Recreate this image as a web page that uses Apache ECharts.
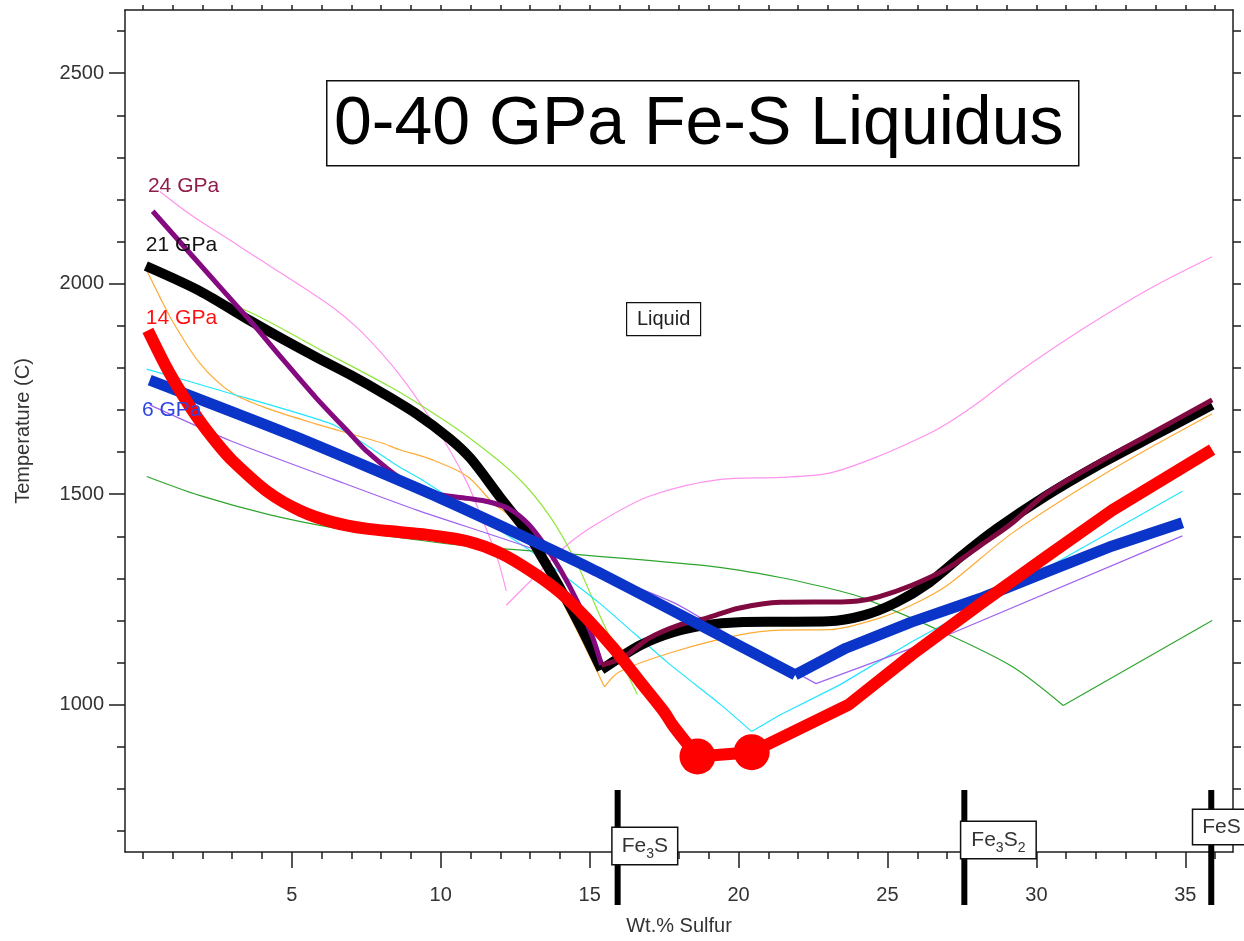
<!DOCTYPE html>
<html>
<head>
<meta charset="utf-8">
<title>0-40 GPa Fe-S Liquidus</title>
<script src="https://cdn.jsdelivr.net/npm/echarts@6/dist/echarts.min.js"></script>
<style>
  html, body { margin: 0; padding: 0; background: #fff; }
  #chart { width: 1244px; height: 941px; }
</style>
</head>
<body>
<div id="chart"></div>
<script>
// Liquidus curves, points are [wt.% S, temperature in °C].
// "Fe" arrays run from pure Fe to the eutectic, "S" arrays from the eutectic toward FeS.

// 6 GPa
const gpa6Fe = [[0.23, 1771], [5.0, 1640], [10.0, 1490], [15.0, 1325], [18.9, 1182], [21.9, 1071]];
const gpa6S = [[21.9, 1071], [23.6, 1134], [25.8, 1196], [28.1, 1252], [30.3, 1314], [32.55, 1377], [34.9, 1432]];

// 14 GPa (with the two measured points near the eutectic)
const gpa14Fe = [[0.17, 1889], [0.8, 1800], [1.34, 1735], [1.9, 1675], [2.5, 1620], [3.0, 1580], [4.2, 1505], [5.3, 1460], [6.4, 1433], [7.5, 1418], [8.6, 1410], [9.7, 1402], [10.9, 1388], [12.0, 1360], [13.1, 1314], [14.0, 1267], [14.9, 1205], [15.8, 1134], [16.7, 1054], [17.5, 983], [17.8, 950], [18.62, 877]];
const gpa14S = [[18.62, 877], [20.44, 887], [23.7, 1000], [25.8, 1118], [28.1, 1238], [30.3, 1350], [32.55, 1462], [35.9, 1606]];
const gpa14Points = [[18.62, 877], [20.44, 887]];

// 21 GPa
const gpa21Fe = [[0.1, 2042], [1.9, 1983], [3.6, 1912], [4.7, 1868], [5.8, 1826], [7.0, 1782], [8.1, 1738], [9.2, 1690], [10.3, 1632], [11.0, 1585], [12.0, 1492], [12.9, 1410], [13.4, 1350], [14.0, 1278], [14.7, 1185], [15.4, 1083]];
const gpa21S = [[15.4, 1083], [16.7, 1141], [17.8, 1172], [18.9, 1189], [20.0, 1196], [21.4, 1197], [23.0, 1198], [24.2, 1212], [25.3, 1243], [26.4, 1290], [27.5, 1354], [28.65, 1417], [30.3, 1495], [32.0, 1566], [33.7, 1630], [35.9, 1712]];

// 24 GPa
const gpa24Fe = [[0.33, 2172], [2.8, 1975], [3.6, 1912], [4.7, 1820], [5.8, 1730], [7.0, 1640], [7.5, 1603], [8.6, 1540], [9.7, 1503], [10.9, 1490], [11.6, 1482], [12.3, 1465], [12.9, 1432], [13.4, 1388], [14.0, 1323], [14.6, 1243], [15.1, 1160], [15.4, 1094]];
const gpa24S = [[15.4, 1094], [16.1, 1111], [17.0, 1158], [18.0, 1189], [18.9, 1205], [20.0, 1229], [21.4, 1243], [23.4, 1244], [24.0, 1246], [24.7, 1256], [25.8, 1283], [27.0, 1323], [28.1, 1377], [29.2, 1432], [30.3, 1500], [32.0, 1572], [33.7, 1638], [35.9, 1724]];

// Other pressures (thin curves)
const pinkFe = [[0.57, 2219], [1.58, 2165], [3.0, 2100], [3.6, 2072], [5.3, 1995], [6.4, 1942], [7.2, 1895], [8.05, 1832], [8.7, 1776], [9.4, 1706], [10.3, 1605], [10.9, 1525], [11.4, 1440], [11.9, 1348], [12.2, 1270]];
const pinkS = [[12.2, 1236], [13.1, 1300], [14.2, 1377], [15.3, 1432], [17.0, 1495], [19.4, 1535], [21.4, 1540], [23.05, 1550], [24.7, 1590], [26.4, 1644], [27.1, 1672], [28.1, 1720], [29.3, 1785], [31.5, 1890], [33.8, 1988], [35.9, 2064]];
const limeFe = [[0.13, 2031], [3.6, 1932], [5.8, 1849], [8.3, 1755], [9.4, 1708], [10.9, 1637], [12.55, 1542], [13.66, 1448], [14.56, 1337], [15.34, 1212], [16.6, 1024]];
const orangeFe = [[0.13, 2031], [0.57, 1968], [1.0, 1910], [1.9, 1812], [3.0, 1740], [4.2, 1703], [5.8, 1667], [8.0, 1622], [8.6, 1606], [9.7, 1582], [10.9, 1542], [11.75, 1479], [12.3, 1448], [13.1, 1370], [14.3, 1215], [15.5, 1042]];
const orangeS = [[15.5, 1042], [16.0, 1078], [17.8, 1125], [20.0, 1165], [21.4, 1177], [23.05, 1178], [24.7, 1205], [25.8, 1236], [27.0, 1283], [29.2, 1408], [32.55, 1559], [35.9, 1691]];
const cyanFe = [[0.13, 1797], [3.0, 1738], [6.4, 1665], [8.6, 1565], [9.3, 1537], [13.1, 1361], [15.3, 1243], [17.6, 1101], [19.4, 1000], [20.44, 936]];
const cyanS = [[20.44, 936], [21.4, 976], [23.4, 1047], [25.8, 1149], [30.3, 1323], [34.9, 1507]];
const violetFe = [[0.23, 1712], [3.0, 1625], [6.4, 1535], [9.2, 1462], [13.1, 1370], [17.8, 1243], [20.0, 1152], [22.6, 1050]];
const violetS = [[22.6, 1050], [27.0, 1165], [34.9, 1401]];
const greenFe = [[0.13, 1542], [1.9, 1497], [4.2, 1452], [6.4, 1420], [8.6, 1397], [10.5, 1380], [14.3, 1358], [18.9, 1330], [21.4, 1302], [23.4, 1270], [24.2, 1253], [27.0, 1168], [29.2, 1090], [30.9, 998]];
const greenS = [[30.9, 998], [35.9, 1200]];

// Curve names and where they sit: [wt.% S, °C] of the label's left edge
const curveLabelNames = ['24 GPa', '21 GPa', '14 GPa', '6 GPa'];
const curveLabelAnchors = [[0.17, 2231], [0.1, 2092], [0.1, 1917], [-0.03, 1700]];

// Iron sulfide compositions (wt.% S)
const phaseNames = ['Fe3S', 'Fe3S2', 'FeS'];
const phaseWt = [15.94, 27.58, 35.87];

// Axis ranges and ticks
const X_MIN = -0.6, X_MAX = 36.6, T_MIN = 650, T_MAX = 2650;
const xMajorTicks = [5, 10, 15, 20, 25, 30, 35];
const xMinorTicks = [0, 1, 2, 3, 4, 5, 6, 7, 8, 9, 10, 11, 12, 13, 14, 15, 16, 17, 18, 19, 20, 21, 22, 23, 24, 25, 26, 27, 28, 29, 30, 31, 32, 33, 34, 35, 36];
const tMajorTicks = [1000, 1500, 2000, 2500];
const tMinorTicks = [700, 800, 900, 1000, 1100, 1200, 1300, 1400, 1500, 1600, 1700, 1800, 1900, 2000, 2100, 2200, 2300, 2400, 2500, 2600];

const FONT = '"Liberation Sans", Arial, Helvetica, sans-serif';
const AXIS_COLOR = '#1e1e1e';
const TEXT_COLOR = '#333';
const labelColors = ['#8f1d4c', '#111111', '#ff1010', '#2f45e0'];

// Label box layout for the composition markers (pixels, relative to the bar and the x axis)
const phaseBoxLayout = [
  { dx: -5, dy: -6, pad: [6, 9, 6, 9] },
  { dx: -3, dy: -12, pad: [6, 10, 6, 10] },
  { dx: -18, dy: -25, pad: [5, 9, 5, 9] }
];
const phaseRich = {
  Fe3S: '{n|Fe}{s|3}{n|S}',
  Fe3S2: '{n|Fe}{s|3}{n|S}{s|2}',
  FeS: '{n|FeS}'
};

function curve(data, color, width, z, smooth) {
  return {
    type: 'line',
    data: data,
    symbol: 'none',
    showSymbol: false,
    smooth: smooth || false,
    lineStyle: { color: color, width: width, cap: 'butt', join: 'round', opacity: 1 },
    z: z,
    silent: true,
    animation: false
  };
}

const series = [
  // thin curves
  curve(pinkFe, '#ff93ee', 1.2, 2, 0.3),
  curve(pinkS, '#ff93ee', 1.2, 2, 0.3),
  curve(limeFe, '#8fe63a', 1.2, 2, 0.3),
  curve(orangeFe, '#ffaa33', 1.2, 2, 0.3),
  curve(orangeS, '#ffaa33', 1.2, 2, 0.3),
  curve(cyanFe, '#20e6ff', 1.2, 2, 0.15),
  curve(cyanS, '#20e6ff', 1.2, 2, false),
  curve(violetFe, '#a062f0', 1.2, 2, 0.2),
  curve(violetS, '#a062f0', 1.2, 2, false),
  curve(greenFe, '#2fa52f', 1.2, 2, 0.3),
  curve(greenS, '#2fa52f', 1.2, 2, false),
  // bold curves
  curve(gpa21Fe, '#000000', 10, 3, 0.3),
  curve(gpa21S, '#000000', 10, 3, 0.3),
  curve(gpa24Fe, '#850a80', 5, 4, 0.3),
  curve(gpa24S, '#800a40', 5, 4, 0.3),
  curve(gpa6Fe, '#0a35c8', 11, 5, 0.2),
  curve(gpa6S, '#0a35c8', 11, 5, false),
  curve(gpa14Fe, '#ff0000', 12, 6, 0.3),
  curve(gpa14S, '#ff0000', 12, 6, false),
  {
    type: 'scatter',
    data: gpa14Points,
    symbol: 'circle',
    symbolSize: 36,
    itemStyle: { color: '#ff0000', opacity: 1 },
    z: 6,
    silent: true,
    animation: false
  },
  // composition markers with boxed labels
  {
    type: 'custom',
    data: phaseWt.map(function (w) { return [w, T_MIN]; }),
    encode: { x: 0, y: 1 },
    clip: false,
    z: 7,
    silent: true,
    animation: false,
    renderItem: function (params, api) {
      const i = params.dataIndex;
      const p = api.coord([api.value(0), T_MIN]);
      const lay = phaseBoxLayout[i];
      return {
        type: 'group',
        children: [
          {
            type: 'rect',
            shape: { x: p[0] - 3, y: p[1] - 62, width: 6, height: 115 },
            style: { fill: '#000' }
          },
          {
            type: 'text',
            x: p[0] + lay.dx,
            y: p[1] + lay.dy,
            style: {
              text: phaseRich[phaseNames[i]],
              align: 'left',
              verticalAlign: 'middle',
              backgroundColor: '#fff',
              borderColor: '#111',
              borderWidth: 1.5,
              padding: lay.pad,
              rich: {
                n: { fontSize: 21, fontFamily: FONT, fill: '#333', lineHeight: 24 },
                s: { fontSize: 14, fontFamily: FONT, fill: '#333', lineHeight: 16, verticalAlign: 'bottom', padding: [0, 0, -3, 0] }
              }
            }
          }
        ]
      };
    }
  },
  // curve names
  {
    type: 'custom',
    data: curveLabelAnchors,
    encode: { x: 0, y: 1 },
    clip: false,
    z: 8,
    silent: true,
    animation: false,
    renderItem: function (params, api) {
      const i = params.dataIndex;
      const p = api.coord([api.value(0), api.value(1)]);
      return {
        type: 'text',
        x: p[0],
        y: p[1],
        style: {
          text: curveLabelNames[i],
          fill: labelColors[i],
          fontSize: 21,
          fontFamily: FONT,
          align: 'left',
          verticalAlign: 'middle'
        }
      };
    }
  }
];

const chart = echarts.init(document.getElementById('chart'), null, { renderer: 'canvas' });

const plainNumber = function (v) { return String(v); };

chart.setOption({
  backgroundColor: '#fff',
  animation: false,
  grid: { left: 125, top: 10, right: 11, bottom: 84, containLabel: false },
  xAxis: [
    {
      type: 'value', position: 'bottom', min: X_MIN, max: X_MAX,
      axisLine: { show: true, onZero: false, lineStyle: { color: AXIS_COLOR, width: 1.5 } },
      axisTick: { show: true, length: 16, customValues: xMajorTicks, lineStyle: { color: AXIS_COLOR, width: 1.5 } },
      axisLabel: { customValues: xMajorTicks, formatter: plainNumber, margin: 33, fontSize: 20, color: TEXT_COLOR, fontFamily: FONT },
      splitLine: { show: false },
      name: 'Wt.% Sulfur', nameLocation: 'middle', nameGap: 64,
      nameTextStyle: { fontSize: 20, color: TEXT_COLOR, fontFamily: FONT }
    },
    {
      type: 'value', position: 'bottom', min: X_MIN, max: X_MAX,
      axisLine: { show: false, onZero: false },
      axisTick: { show: true, length: 7, customValues: xMinorTicks, lineStyle: { color: AXIS_COLOR, width: 1.5 } },
      axisLabel: { show: false },
      splitLine: { show: false }
    },
    {
      type: 'value', position: 'top', min: X_MIN, max: X_MAX,
      axisLine: { show: true, onZero: false, lineStyle: { color: AXIS_COLOR, width: 1.5 } },
      axisTick: { show: true, length: 5, customValues: xMinorTicks, lineStyle: { color: AXIS_COLOR, width: 1.5 } },
      axisLabel: { show: false },
      splitLine: { show: false }
    }
  ],
  yAxis: [
    {
      type: 'value', position: 'left', min: T_MIN, max: T_MAX,
      axisLine: { show: true, onZero: false, lineStyle: { color: AXIS_COLOR, width: 1.5 } },
      axisTick: { show: true, length: 16, customValues: tMajorTicks, lineStyle: { color: AXIS_COLOR, width: 1.5 } },
      axisLabel: { customValues: tMajorTicks, formatter: plainNumber, margin: 21, fontSize: 20, color: TEXT_COLOR, fontFamily: FONT },
      splitLine: { show: false },
      name: 'Temperature (C)', nameLocation: 'middle', nameRotate: 90, nameGap: 92,
      nameTextStyle: { fontSize: 20, color: TEXT_COLOR, fontFamily: FONT }
    },
    {
      type: 'value', position: 'left', min: T_MIN, max: T_MAX,
      axisLine: { show: false, onZero: false },
      axisTick: { show: true, length: 8, customValues: tMinorTicks, lineStyle: { color: AXIS_COLOR, width: 1.5 } },
      axisLabel: { show: false },
      splitLine: { show: false }
    },
    {
      type: 'value', position: 'right', min: T_MIN, max: T_MAX,
      axisLine: { show: true, onZero: false, lineStyle: { color: AXIS_COLOR, width: 1.5 } },
      axisTick: { show: true, length: 8, customValues: tMinorTicks, lineStyle: { color: AXIS_COLOR, width: 1.5 } },
      axisLabel: { show: false },
      splitLine: { show: false }
    }
  ],
  graphic: [
    {
      type: 'group', left: 326, top: 80, z: 20,
      children: [
        { type: 'rect', shape: { x: 0, y: 0, width: 752, height: 85 }, style: { fill: '#fff', stroke: '#111', lineWidth: 1.5 } },
        { type: 'text', x: 372, y: 44, style: { text: '0-40 GPa Fe-S Liquidus', fontSize: 68, fontFamily: FONT, fill: '#000', align: 'center', verticalAlign: 'middle' } }
      ]
    },
    {
      type: 'group', left: 626, top: 302, z: 20,
      children: [
        { type: 'rect', shape: { x: 0, y: 0, width: 74, height: 33 }, style: { fill: '#fff', stroke: '#111', lineWidth: 1.2 } },
        { type: 'text', x: 37, y: 17, style: { text: 'Liquid', fontSize: 20, fontFamily: FONT, fill: '#222', align: 'center', verticalAlign: 'middle' } }
      ]
    }
  ],
  series: series
});
</script>
</body>
</html>
